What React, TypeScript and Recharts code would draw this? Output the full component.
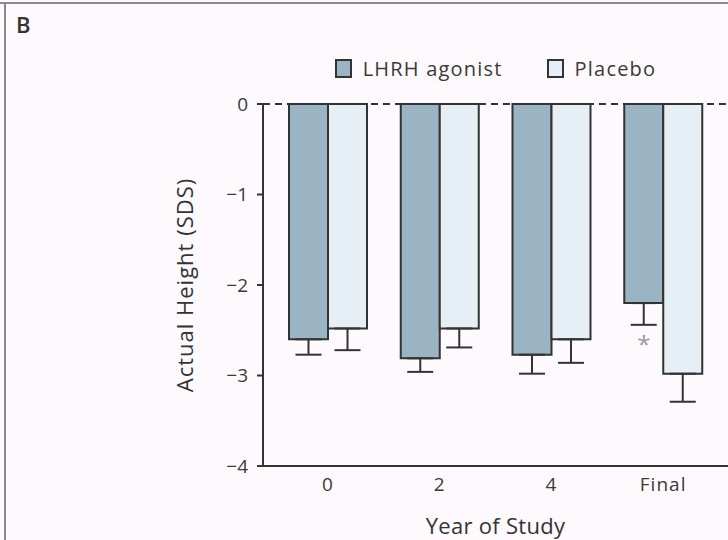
import { BarChart, Bar, XAxis, YAxis, ErrorBar, ReferenceLine, Legend, LabelList } from 'recharts';

const years = ['0', '2', '4', 'Final'];
const lhrh = [-2.6, -2.81, -2.77, -2.2];
const lhrhErr = [0.17, 0.15, 0.21, 0.24];
const placebo = [-2.48, -2.48, -2.6, -2.98];
const placeboErr = [0.24, 0.21, 0.26, 0.31];
const marks = ['', '', '', '*'];
const yTicks = [0, -1, -2, -3, -4];

const LHRH_FILL = '#9bb4c4';
const PLACEBO_FILL = '#e6eff6';
const INK = '#333333';
const FONT = '"Open Sans", sans-serif';

const data = years.map((year, i) => ({
    year,
    lhrh: lhrh[i],
    lhrhErr: [lhrhErr[i], 0],
    placebo: placebo[i],
    placeboErr: [placeboErr[i], 0],
    mark: marks[i],
}));

const legendItems = [
    { label: 'LHRH agonist', fill: LHRH_FILL },
    { label: 'Placebo', fill: PLACEBO_FILL },
];

function LegendContent() {
    return (
        <div style={{ display: 'flex', justifyContent: 'center', alignItems: 'center', gap: 44 }}>
            {legendItems.map((item) => (
                <div key={item.label} style={{ display: 'flex', alignItems: 'center' }}>
                    <span style={{
                        width: 13, height: 15, background: item.fill,
                        border: `2px solid ${INK}`, display: 'inline-block', marginRight: 11,
                    }} />
                    <span style={{ fontFamily: FONT, fontSize: 20, color: '#3a3a3a', letterSpacing: 1.2 }}>
                        {item.label}
                    </span>
                </div>
            ))}
        </div>
    );
}

// eslint-disable-next-line @typescript-eslint/no-explicit-any
function StarLabel(props: any) {
    const vb = props.viewBox ?? props;
    const { value, index } = props;
    if (!value || index == null) return null;
    const top = Math.min(vb.y, vb.y + vb.height);
    const h = Math.abs(vb.height);
    const perUnit = h / Math.abs(lhrh[index]);
    const y = top + h + lhrhErr[index] * perUnit + 28;
    return (
        <text x={vb.x + vb.width / 2} y={y} textAnchor="middle"
            fontFamily={FONT} fontSize={24} fill="#9a9a9a">
            {value}
        </text>
    );
}

const minus = (v: number) => (v < 0 ? `\u2212${-v}` : `${v}`);

export default function App() {
    return (
        <div style={{ position: 'absolute', left: 0, top: 0, width: 728, height: 540, background: '#fdf9fd', overflow: 'hidden' }}>
            <div style={{ position: 'absolute', left: 0, top: 2, width: 728, height: 2, background: '#8a8a8a' }} />
            <div style={{ position: 'absolute', left: 4, top: 2, width: 2, height: 538, background: '#8a8a8a' }} />
            <div style={{ position: 'absolute', left: 16, top: 9, fontFamily: FONT, fontSize: 22, fontWeight: 600, color: INK }}>B</div>
            <BarChart
                width={728}
                height={540}
                data={data}
                margin={{ top: 104, right: 0, bottom: 0, left: 170 }}
                barGap={0}
                barSize={39}
            >
                <ReferenceLine y={0} stroke={INK} strokeWidth={2} strokeDasharray="7 5" />
                <XAxis
                    dataKey="year"
                    height={74}
                    padding={{ left: 9, right: 9 }}
                    axisLine={{ stroke: INK, strokeWidth: 2 }}
                    tickLine={false}
                    tickSize={6}
                    tickMargin={6}
                    tick={{ fill: '#3a3a3a', fontSize: 19, fontFamily: FONT, letterSpacing: 1 }}
                    label={{ value: 'Year of Study', position: 'insideBottom', offset: 6, fill: INK, fontSize: 22, fontFamily: FONT, letterSpacing: 0.3 }}
                />
                <YAxis
                    width={93}
                    domain={[-4, 0]}
                    ticks={yTicks}
                    interval={0}
                    tickFormatter={minus}
                    axisLine={{ stroke: INK, strokeWidth: 2 }}
                    tickLine={{ stroke: INK, strokeWidth: 2 }}
                    tickSize={6}
                    tickMargin={9}
                    tick={{ fill: '#3a3a3a', fontSize: 19, fontFamily: FONT }}
                    label={{ value: 'Actual Height (SDS)', angle: -90, position: 'insideLeft', offset: 15, fill: INK, fontSize: 22, fontFamily: FONT, letterSpacing: 1, style: { textAnchor: 'middle' } }}
                />
                <Legend
                    layout="vertical"
                    align="center"
                    verticalAlign="middle"
                    wrapperStyle={{ top: 55, left: 263, width: 465 }}
                    content={<LegendContent />}
                />
                <Bar dataKey="lhrh" name="LHRH agonist" fill={LHRH_FILL} stroke={INK} strokeWidth={2} isAnimationActive={false}>
                    <ErrorBar dataKey="lhrhErr" width={13} stroke={INK} strokeWidth={2} direction="y" />
                    <LabelList dataKey="mark" content={<StarLabel />} />
                </Bar>
                <Bar dataKey="placebo" name="Placebo" fill={PLACEBO_FILL} stroke={INK} strokeWidth={2} isAnimationActive={false}>
                    <ErrorBar dataKey="placeboErr" width={13} stroke={INK} strokeWidth={2} direction="y" />
                </Bar>
            </BarChart>
        </div>
    );
}
